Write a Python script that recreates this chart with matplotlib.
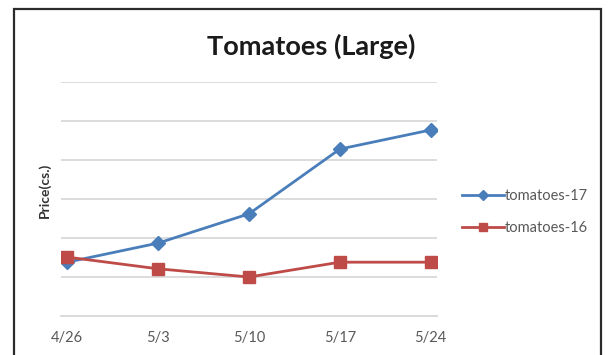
import matplotlib
matplotlib.use("Agg")
import matplotlib.pyplot as plt
from matplotlib.patches import Rectangle

dates = ["4/26", "5/3", "5/10", "5/17", "5/24"]
tomatoes_17 = [13.8, 18.7, 26.2, 42.8, 47.7]
tomatoes_16 = [15.1, 12.1, 10.0, 13.8, 13.8]

BLUE = "#4a7ebb"
RED = "#be4b48"
GRID = "#d9d9d9"
TEXT = "#595959"

plt.rcParams['font.family'] = ['Lato', 'DejaVu Sans']

fig = plt.figure(figsize=(6.12, 3.55), dpi=100)
W, H = 612, 355

# chart border
fig.patches.append(Rectangle((14 / W, -0.1), (601 - 14) / W, (1.1 - 9 / H),
                             transform=fig.transFigure, fill=False,
                             edgecolor="#2b2b2b", linewidth=1.6))

ax = fig.add_axes([61 / W, 1 - 316 / H, (437 - 61) / W, (316 - 82) / H])
x = list(range(len(dates)))
ax.plot(x, tomatoes_17, color=BLUE, linewidth=2.0, marker="D", markersize=7,
        label="tomatoes-17")
ax.plot(x, tomatoes_16, color=RED, linewidth=2.0, marker="s", markersize=8,
        label="tomatoes-16")

ax.set_xlim(-0.07, 4.07)
ax.set_ylim(0, 60)
ax.set_yticks(range(0, 61, 10))
ax.set_yticklabels([])
ax.grid(axis="y", color=GRID, linewidth=1.3)
ax.set_axisbelow(True)
ax.set_xticks(x)
ax.set_xticklabels(dates, fontsize=10.5, color=TEXT)
ax.tick_params(axis="both", length=0, pad=11)
for s in ["top", "right", "left"]:
    ax.spines[s].set_visible(False)
ax.spines["bottom"].set_color(GRID)
ax.spines["bottom"].set_linewidth(1.3)

ax.set_ylabel("Price(cs.)", fontsize=10, fontweight="bold", color="#333333")
ax.yaxis.set_label_coords(-0.026, 0.535)

fig.text(311 / W, 1 - 46 / H, "Tomatoes (Large)", fontsize=19.5,
         fontweight="bold", ha="center", va="center", color="#1a1a1a")

fig.legend(loc="center left", bbox_to_anchor=(449 / W, 1 - 212 / H),
           frameon=False, fontsize=10.5, handlelength=2.9, handletextpad=0.05,
           labelspacing=1.2, labelcolor=TEXT, markerscale=0.7)

fig.savefig("out.png", dpi=100)
